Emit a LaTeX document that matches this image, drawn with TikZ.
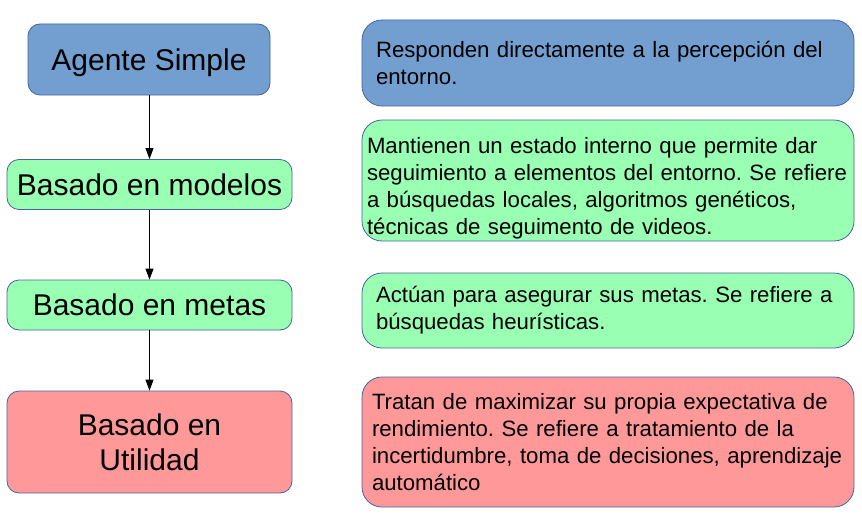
\documentclass[tikz,border=0pt]{standalone}
\usepackage{fontspec}
\setmainfont{Liberation Sans}
\usetikzlibrary{arrows.meta}

\definecolor{azul}{RGB}{114,159,207}
\definecolor{verde}{RGB}{153,255,179}
\definecolor{rojo}{RGB}{255,153,153}
\definecolor{borde}{RGB}{70,100,160}

\frenchspacing
\hyphenpenalty=10000

\begin{document}
\begin{tikzpicture}[
       x=1pt, y=-1pt,
       tipo/.style={
         draw=borde,
         line width=0.8pt,
         rounded corners=12pt,
         align=center,
         inner sep=0pt,
         font=\fontsize{30}{35}\selectfont
       },
       desc/.style={
         draw=borde,
         line width=0.8pt,
         rounded corners=20pt,
         align=left,
         inner ysep=0pt,
         minimum width=492pt,
         font=\fontsize{22.2}{27}\selectfont
       },
       flecha/.style={
         -{Triangle[width=8pt,length=11pt]},
         line width=0.8pt
       }
     ]

       \useasboundingbox (0,0) rectangle (862,519);

       % tipos de agente
       \node (t1) at (149,59.5) [tipo, fill=azul, minimum width=242pt, minimum height=71pt, text depth=0pt]{Agente Simple};
       \node (t2) at (149.5,184.5) [tipo, fill=verde, minimum width=285pt, minimum height=50pt]{Basado en modelos};
       \node (t3) at (149.5,305) [tipo, fill=verde, minimum width=285pt, minimum height=50pt]{Basado en metas};
       \node (t4) at (149.5,442) [tipo, fill=rojo, minimum width=285pt, minimum height=102pt]{Basado en\\Utilidad};

       % descripciones
       \node (d1) at (608,63) [desc, fill=azul, inner xsep=14pt, text width=464pt, minimum height=86pt]
         {Responden directamente a la percepción del\\entorno.};
       \node (d2) at (608,180.5) [desc, fill=verde, inner xsep=5pt, text width=482pt, minimum height=121pt]
         {\rule{0pt}{32pt}Mantienen un estado interno que permite dar\\seguimiento a elementos del entorno. Se refiere\\a búsquedas locales, algoritmos genéticos,\\técnicas de seguimento de videos.};
       \node (d3) at (608,310.5) [desc, fill=verde, inner xsep=14pt, text width=464pt, minimum height=75pt]
         {Actúan para asegurar sus metas. Se refiere a\\búsquedas heurísticas.};
       \node (d4) at (608,442) [desc, fill=rojo, inner xsep=10pt, text width=472pt, minimum height=130pt]
         {Tratan de maximizar su propia expectativa de\\rendimiento. Se refiere a tratamiento de la\\incertidumbre, toma de decisiones, aprendizaje\\automático};

       \draw [flecha] (t1.south -| t2) -- (t2.north);
       \draw [flecha] (t2) -- (t3);
       \draw [flecha] (t3) -- (t4);

\end{tikzpicture}
\end{document}
